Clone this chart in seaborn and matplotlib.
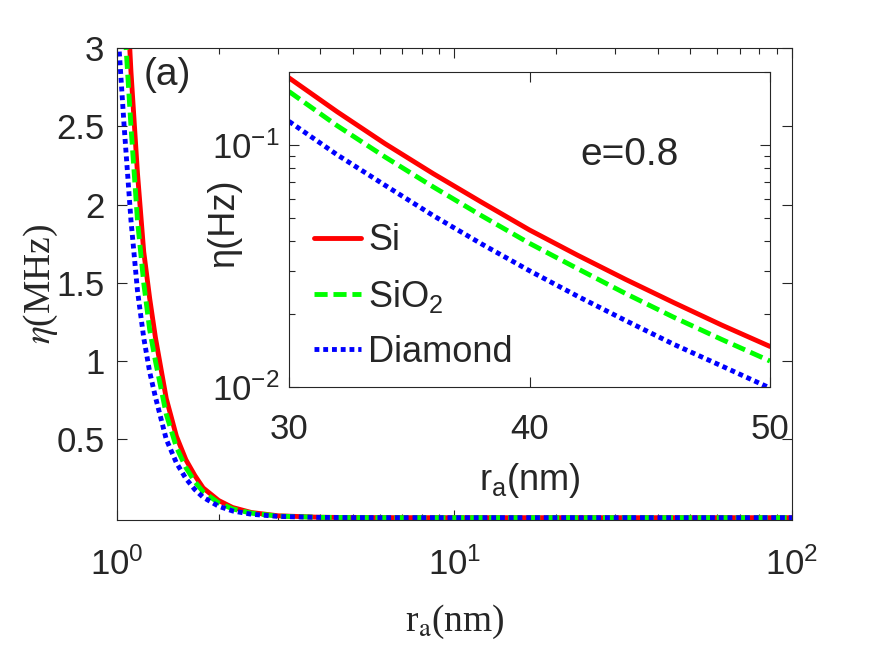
import numpy as np
import pandas as pd
import matplotlib
matplotlib.use("Agg")
import matplotlib.pyplot as plt
import matplotlib.ticker as mticker
import seaborn as sns

# main panel: eta (MHz) vs r_a (nm)
r_main = [1.0, 1.05, 1.1, 1.15, 1.2, 1.25, 1.3, 1.4, 1.5, 1.6, 1.7, 1.8,
          2.0, 2.2, 2.5, 3.0, 4.0, 5.0, 7.0, 10.0, 20.0, 50.0, 100.0]
si_main = [4.8, 3.7, 2.85, 2.2, 1.7, 1.4, 1.15, 0.76, 0.52, 0.37, 0.27, 0.19,
           0.11, 0.065, 0.033, 0.012, 0.0025, 0.0008, 0.0001, 0.00002, 0, 0, 0]
sio2_main = [4.2, 3.2, 2.5, 1.9, 1.5, 1.2, 1.0, 0.66, 0.45, 0.32, 0.23, 0.165,
             0.095, 0.056, 0.029, 0.010, 0.0022, 0.0007, 0.0001, 0.00002, 0, 0, 0]
dia_main = [3.2, 2.5, 1.9, 1.45, 1.15, 0.93, 0.77, 0.5, 0.35, 0.25, 0.18, 0.13,
            0.073, 0.043, 0.022, 0.008, 0.0017, 0.0005, 0.0001, 0.00001, 0, 0, 0]

# inset: eta (Hz) vs r_a (nm), e = 0.8
r_ins = [30, 32, 34, 36, 38, 40, 42, 44, 46, 48, 50]
si_ins = [0.189, 0.137, 0.101, 0.076, 0.058, 0.0445, 0.035, 0.0278, 0.0223, 0.018, 0.0147]
sio2_ins = [0.166, 0.120, 0.089, 0.067, 0.051, 0.0392, 0.0308, 0.0243, 0.0194, 0.0157, 0.0128]
dia_ins = [0.125, 0.091, 0.068, 0.051, 0.039, 0.0302, 0.0237, 0.0188, 0.0150, 0.0122, 0.0099]

labels = ["Si", "SiO$_2$", "Diamond"]
colors = ["#ff0000", "#00ff00", "#0000ff"]
styles = ["-", (0, (2.7, 1.2)), (0, (1, 0.8))]

sns.set_style("ticks")
plt.rcParams["font.family"] = ["Liberation Sans", "DejaVu Sans"]
plt.rcParams["mathtext.fontset"] = "custom"
plt.rcParams["mathtext.rm"] = "Liberation Sans"
plt.rcParams["mathtext.it"] = "Liberation Sans:italic"
plt.rcParams["axes.unicode_minus"] = False
axcol = "#262626"
txtcol = "#262626"

fig = plt.figure(figsize=(8.75, 6.57), dpi=100)
ax = fig.add_axes([0.1337, 0.2085, 0.7714, 0.7184])
axin = fig.add_axes([0.3303, 0.411, 0.5497, 0.4795])

main_series = [si_main, sio2_main, dia_main]
ins_series = [si_ins, sio2_ins, dia_ins]

for ys, lab, c, ls in zip(main_series, labels, colors, styles):
    sns.lineplot(x=r_main, y=ys, ax=ax, color=c, linestyle=ls, lw=3.5, label=lab, legend=False)
for ys, lab, c, ls in zip(ins_series, labels, colors, styles):
    sns.lineplot(x=r_ins, y=ys, ax=axin, color=c, linestyle=ls, lw=3.5, label=lab, legend=False)

# main axes
ax.set_xscale("log")
ax.set_xlim(1, 100)
ax.set_ylim(-0.015, 3)
ax.yaxis.set_major_locator(mticker.FixedLocator([0.5, 1, 1.5, 2, 2.5, 3]))
ax.yaxis.set_major_formatter(mticker.FormatStrFormatter("%g"))
ax.xaxis.set_minor_locator(mticker.LogLocator(base=10, subs=np.arange(2, 10)))
ax.xaxis.set_minor_formatter(mticker.NullFormatter())
ax.tick_params(which="both", direction="in", top=True, right=True, colors=axcol,
               labelcolor=txtcol, labelsize=25, width=0.8)
ax.tick_params(which="major", length=7)
ax.tick_params(which="minor", length=4)
ax.tick_params(axis="x", pad=20)
ax.tick_params(axis="y", pad=9)
for s in ax.spines.values():
    s.set_color(axcol)
    s.set_linewidth(0.8)
ax.set_xlabel(r"r$_{\rm a}$(nm)", fontfamily="Liberation Serif", math_fontfamily="stix",
              fontsize=27, color=txtcol)
ax.xaxis.set_label_coords(0.5, -0.175)
ax.set_ylabel(r"$\eta$(MHz)", fontfamily="Liberation Serif", math_fontfamily="stix",
              fontsize=27, color=txtcol)
ax.yaxis.set_label_coords(-0.085, 0.5)
ax.text(0.04, 0.943, "(a)", transform=ax.transAxes, fontsize=28, ha="left", va="center",
        color=txtcol)

# inset axes
axin.set_facecolor("white")
axin.set_yscale("log")
axin.set_xlim(30, 50)
axin.set_ylim(0.01, 0.2)
axin.set_xticks([30, 40, 50])
axin.yaxis.set_major_locator(mticker.FixedLocator([0.01, 0.1]))
axin.yaxis.set_minor_locator(mticker.LogLocator(base=10, subs=np.arange(2, 10)))
axin.yaxis.set_minor_formatter(mticker.NullFormatter())
axin.tick_params(which="both", direction="in", top=True, right=True, colors=axcol,
                 labelcolor=txtcol, labelsize=25, width=0.8)
axin.tick_params(which="major", length=7)
axin.tick_params(which="minor", length=4)
axin.tick_params(axis="x", pad=19)
axin.tick_params(axis="y", pad=7)
for s in axin.spines.values():
    s.set_color(axcol)
    s.set_linewidth(0.8)
axin.set_xlabel(r"r$_{\rm a}$(nm)", fontsize=26, color=txtcol)
axin.xaxis.set_label_coords(0.5, -0.235)
axin.set_ylabel("η(Hz)", fontsize=26, color=txtcol)
axin.yaxis.set_label_coords(-0.1, 0.52)
axin.text(0.709, 0.737, "e=0.8", transform=axin.transAxes, fontsize=28, ha="center",
          va="center", color=txtcol)
axin.legend(loc="upper left", bbox_to_anchor=(0.0, 0.6), frameon=False, fontsize=26,
            handlelength=1.3, handletextpad=0.2, labelspacing=0.55, borderaxespad=0.3)

fig.savefig("out.png", dpi=100)
plt.close(fig)
